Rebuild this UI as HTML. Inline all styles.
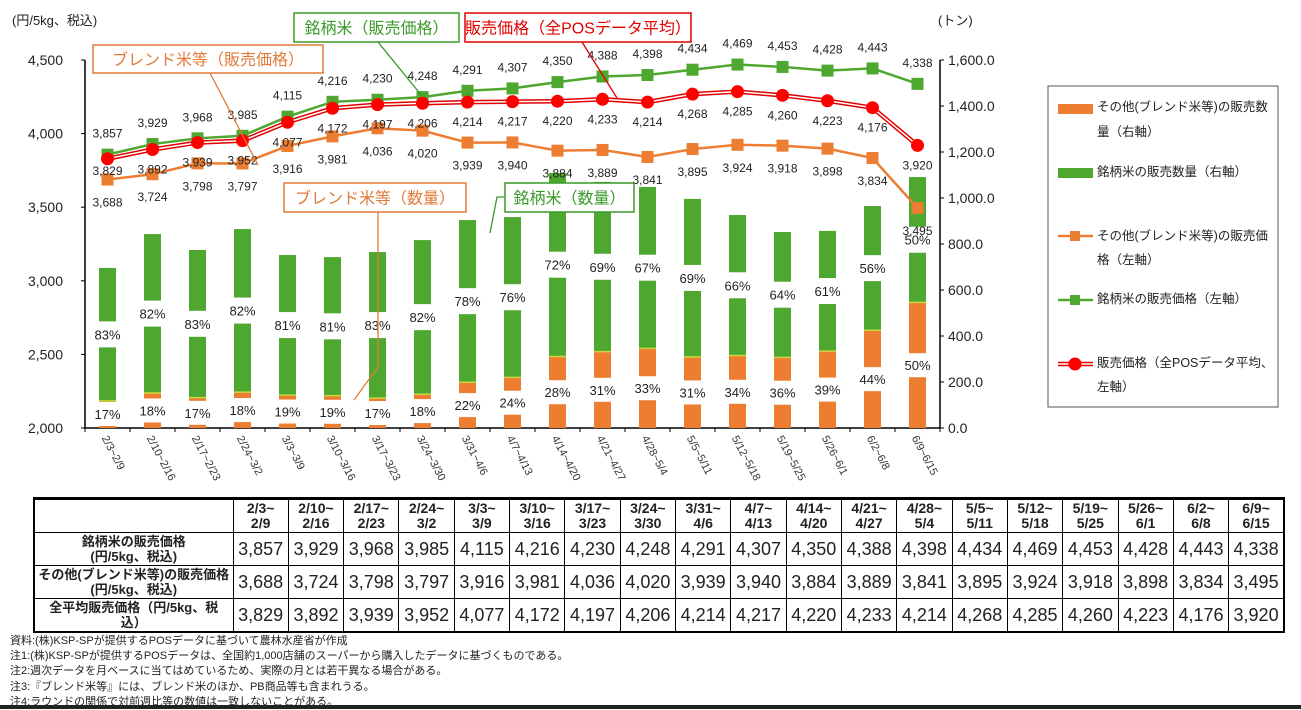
<!DOCTYPE html>
<html><head><meta charset="utf-8">
<style>
body{margin:0;background:#fff;width:1301px;height:709px;overflow:hidden;font-family:"Liberation Sans","Noto Sans CJK JP",sans-serif;}
svg{position:absolute;left:0;top:0}
text{font-family:"Liberation Sans","Noto Sans CJK JP",sans-serif}
table{position:absolute;left:33px;top:497px;border-collapse:collapse;width:1252px;table-layout:fixed;border:2px solid #000;border-top:3px solid #000}
td{border:1px solid #000;text-align:center;padding:0;height:32px;font-size:18px;color:#222}
td.h{font-weight:bold;font-size:14px;line-height:15px}
td.r{font-weight:bold;font-size:13px;line-height:15px}
.notes{position:absolute;left:10px;top:634px;font-size:11px;line-height:15.2px;color:#222}
.bot{position:absolute;left:0;top:705px;width:1301px;height:4px;background:#222}
</style></head><body>
<svg id="chart" width="1301" height="500"></svg>
<table>
<colgroup><col style="width:199px"><col span="19"></colgroup>
<tr id="hrow"><td></td></tr>
<tr id="r1"><td class="r">銘柄米の販売価格<br>(円/5kg、税込)</td></tr>
<tr id="r2"><td class="r">その他(ブレンド米等)の販売価格<br>(円/5kg、税込)</td></tr>
<tr id="r3"><td class="r">全平均販売価格（円/5kg、税<br>込）</td></tr>
</table>
<div class="notes">
資料:(株)KSP-SPが提供するPOSデータに基づいて農林水産省が作成<br>
注1:(株)KSP-SPが提供するPOSデータは、全国約1,000店舗のスーパーから購入したデータに基づくものである。<br>
注2:週次データを月ベースに当てはめているため、実際の月とは若干異なる場合がある。<br>
注3:『ブレンド米等』には、ブレンド米のほか、PB商品等も含まれうる。<br>
注4:ラウンドの関係で対前週比等の数値は一致しないことがある。
</div>
<div class="bot"></div>
<script>
const categories=["2/3~2/9","2/10~2/16","2/17~2/23","2/24~3/2","3/3~3/9","3/10~3/16","3/17~3/23","3/24~3/30","3/31~4/6","4/7~4/13","4/14~4/20","4/21~4/27","4/28~5/4","5/5~5/11","5/12~5/18","5/19~5/25","5/26~6/1","6/2~6/8","6/9~6/15"];
const brandPrice=[3857,3929,3968,3985,4115,4216,4230,4248,4291,4307,4350,4388,4398,4434,4469,4453,4428,4443,4338];
const otherPrice=[3688,3724,3798,3797,3916,3981,4036,4020,3939,3940,3884,3889,3841,3895,3924,3918,3898,3834,3495];
const avgPrice=[3829,3892,3939,3952,4077,4172,4197,4206,4214,4217,4220,4233,4214,4268,4285,4260,4223,4176,3920];
const brandVol=[578,691,642,709,609,602,635,670,705,697,798,738,702,687,611,545,523,540,545];
const otherVol=[118,152,132,156,143,141,130,147,199,220,311,332,346,309,315,307,334,425,546];
const brandPct=[83,82,83,82,81,81,83,82,78,76,72,69,67,69,66,64,61,56,50];
const otherPct=[17,18,17,18,19,19,17,18,22,24,28,31,33,31,34,36,39,44,50];
const leftTicks=[2000,2500,3000,3500,4000,4500];
const rightTicks=[0,200,400,600,800,1000,1200,1400,1600];

const NS="http://www.w3.org/2000/svg";
const svg=document.getElementById('chart');
const X0=85,X1=940,Y0=428,Y1=60;
const bw=(X1-X0)/categories.length;
const xc=i=>X0+bw*(i+0.5);
const yL=v=>Y0-(v-2000)/2500*(Y0-Y1);
const yR=v=>Y0-v/1600*(Y0-Y1);
function el(tag,attrs,parent){const e=document.createElementNS(NS,tag);for(const k in attrs)e.setAttribute(k,attrs[k]);(parent||svg).appendChild(e);return e;}
function txt(x,y,s,attrs,parent){const t=el('text',Object.assign({x:x,y:y},attrs||{}),parent);t.textContent=s;return t;}
const fmt=v=>v.toLocaleString('en-US');

// axes
const ax=el('g',{});


el('line',{x1:X0,y1:Y1,x2:X0,y2:Y0,stroke:'#000','stroke-width':1.5},ax);
el('line',{x1:X1,y1:Y1,x2:X1,y2:Y0,stroke:'#000','stroke-width':1.5},ax);
el('line',{x1:X0,y1:Y0,x2:X1,y2:Y0,stroke:'#000','stroke-width':1.5},ax);
for(let i=0;i<=categories.length;i++){el('line',{x1:X0+bw*i,y1:Y0,x2:X0+bw*i,y2:Y0+4,stroke:'#000'},ax);}
leftTicks.forEach(v=>{
  el('line',{x1:X0-4,y1:yL(v),x2:X0,y2:yL(v),stroke:'#000'},ax);
  const t=txt(63,yL(v)+5,fmt(v),{'font-size':14,'text-anchor':'end',fill:'#222'},ax);
  
  
});
rightTicks.forEach(v=>{
  el('line',{x1:X1,y1:yR(v),x2:X1+4,y2:yR(v),stroke:'#000'},ax);
  const t=txt(948,yR(v)+5,v.toLocaleString('en-US',{minimumFractionDigits:1}),{'font-size':14,fill:'#222'},ax);
  
  
});
const lt=txt(12,25,'(円/5kg、税込)',{'font-size':13,fill:'#222'});


const rt=txt(938,25,'(トン)',{'font-size':13,fill:'#222'});



// x labels
categories.forEach((c,i)=>{
  const t=txt(0,0,c,{'font-size':11,fill:'#333',transform:`translate(${xc(i)-6},${Y0+10}) rotate(62)`});
  
  
});

// bars
const bars=el('g',{});


categories.forEach((c,i)=>{
  const w=17,x=xc(i)-w/2;
  const yo=yR(otherVol[i]),yt=yR(otherVol[i]+brandVol[i]);
  const o=el('rect',{x:x,y:yo,width:w,height:Y0-yo,fill:'#ed7d31'},bars);
  
  
  const g=el('rect',{x:x,y:yt,width:w,height:yo-yt,fill:'#4ea72e'},bars);
  
  
  el('line',{x1:x,y1:yo,x2:x+w,y2:yo,stroke:'#c8d840','stroke-width':1.5},bars);
  // labels
  const gm=(yo+yt)/2, om=(Y0+yo)/2;
  el('rect',{x:xc(i)-18,y:gm-13,width:36,height:26,fill:'#fff'},bars);
  const gl=txt(xc(i),gm+5,brandPct[i]+'%',{'font-size':13,'text-anchor':'middle',fill:'#222'},bars);
  
  
  const oy=Math.min(om,414);
  el('rect',{x:xc(i)-18,y:oy-12,width:36,height:Math.min(24,Y0-1-(oy-12)),fill:'#fff'},bars);
  const ol=txt(xc(i),oy+5,otherPct[i]+'%',{'font-size':13,'text-anchor':'middle',fill:'#222'},bars);
  
  
});

// lines
function pts(arr){return arr.map((v,i)=>xc(i)+','+yL(v)).join(' ');}
const lg=el('g',{});


const ol=el('polyline',{points:pts(otherPrice),fill:'none',stroke:'#ed7d31','stroke-width':2.5},lg);


const gl=el('polyline',{points:pts(brandPrice),fill:'none',stroke:'#4ea72e','stroke-width':2.5},lg);


const rl=el('polyline',{points:pts(avgPrice),fill:'none',stroke:'#e00000','stroke-width':4.5},lg);


el('polyline',{points:pts(avgPrice),fill:'none',stroke:'#fff','stroke-width':1.5},lg);
categories.forEach((c,i)=>{
  const a=el('rect',{x:xc(i)-6,y:yL(otherPrice[i])-6,width:12,height:12,fill:'#ed7d31'},lg);
  
  
  const b=el('rect',{x:xc(i)-6,y:yL(brandPrice[i])-6,width:12,height:12,fill:'#4ea72e'},lg);
  
  
  const r=el('circle',{cx:xc(i),cy:yL(avgPrice[i]),r:6.5,fill:'#ff0000'},lg);
  
  
  const t1=txt(xc(i),yL(brandPrice[i])-17,fmt(brandPrice[i]),{'font-size':12,'text-anchor':'middle',fill:'#222'},lg);
  
  
  const t2=txt(xc(i),yL(avgPrice[i])+(i===0?16:24),fmt(avgPrice[i]),{'font-size':12,'text-anchor':'middle',fill:'#222'},lg);
  
  
  const t3=txt(xc(i),yL(otherPrice[i])+27,fmt(otherPrice[i]),{'font-size':12,'text-anchor':'middle',fill:'#222'},lg);
  
  
});

// callouts
function callout(name,x,y,w,h,color,label,line){
  const g=el('g',{});
  
  
  el('polyline',{points:line,fill:'none',stroke:color,'stroke-width':1.3},g);
  el('rect',{x:x,y:y,width:w,height:h,fill:'#fff',stroke:color,'stroke-width':1.5},g);
  txt(x+w/2,y+h/2+6,label,{'font-size':16,'text-anchor':'middle',fill:color},g);
}
callout('callout-brand-price',294,13,165,29,'#3a9a2a','銘柄米（販売価格）','378,42 422,96');
callout('callout-avg-price',465,13,226,29,'#e00000','販売価格（全POSデータ平均）','582,42 617,98');
callout('callout-blend-price',93,45,230,28,'#e07b3a','ブレンド米等（販売価格）','210,73 258,165');
callout('callout-blend-volume',284,183,182,29,'#e07b3a','ブレンド米等（数量）','378,212 378,367 354,400');
callout('callout-brand-volume',505,183,129,29,'#3a9a2a','銘柄米（数量）','505,197 497,197 490,233');

// legend
const leg=el('g',{});


el('rect',{x:1048,y:86,width:230,height:321,fill:'#fff',stroke:'#555','stroke-width':1},leg);
function ltxt(y,s){txt(1097,y,s,{'font-size':12.5,fill:'#222'},leg);}
const e1=el('rect',{x:1058,y:104,width:35,height:10,fill:'#ed7d31'},leg);


ltxt(111,'その他(ブレンド米等)の販売数');ltxt(136,'量（右軸）');
const e2=el('rect',{x:1058,y:168,width:35,height:10,fill:'#4ea72e'},leg);


ltxt(176,'銘柄米の販売数量（右軸）');
const e3=el('line',{x1:1058,y1:236,x2:1093,y2:236,stroke:'#ed7d31','stroke-width':2.5},leg);


el('rect',{x:1070,y:231,width:10,height:10,fill:'#ed7d31'},leg);
ltxt(240,'その他(ブレンド米等)の販売価');ltxt(264,'格（左軸）');
const e4=el('line',{x1:1058,y1:300,x2:1093,y2:300,stroke:'#4ea72e','stroke-width':2.5},leg);


el('rect',{x:1070,y:295,width:10,height:10,fill:'#4ea72e'},leg);
ltxt(303,'銘柄米の販売価格（左軸）');
const e5=el('line',{x1:1058,y1:364,x2:1093,y2:364,stroke:'#e00000','stroke-width':4.5},leg);


el('line',{x1:1058,y1:364,x2:1093,y2:364,stroke:'#fff','stroke-width':1.5},leg);
el('circle',{cx:1075,cy:364,r:6.5,fill:'#ff0000'},leg);
ltxt(367,'販売価格（全POSデータ平均、');ltxt(391,'左軸）');

// table
const hr=document.getElementById('hrow');
categories.forEach(c=>{const td=document.createElement('td');td.className='h';const p=c.split('~');td.innerHTML=p[0]+'~<br>'+p[1];hr.appendChild(td);});
[[brandPrice,'r1'],[otherPrice,'r2'],[avgPrice,'r3']].forEach(([arr,id])=>{
  const tr=document.getElementById(id);
  arr.forEach(v=>{const td=document.createElement('td');td.textContent=fmt(v);tr.appendChild(td);});
});
</script>
</body></html>
